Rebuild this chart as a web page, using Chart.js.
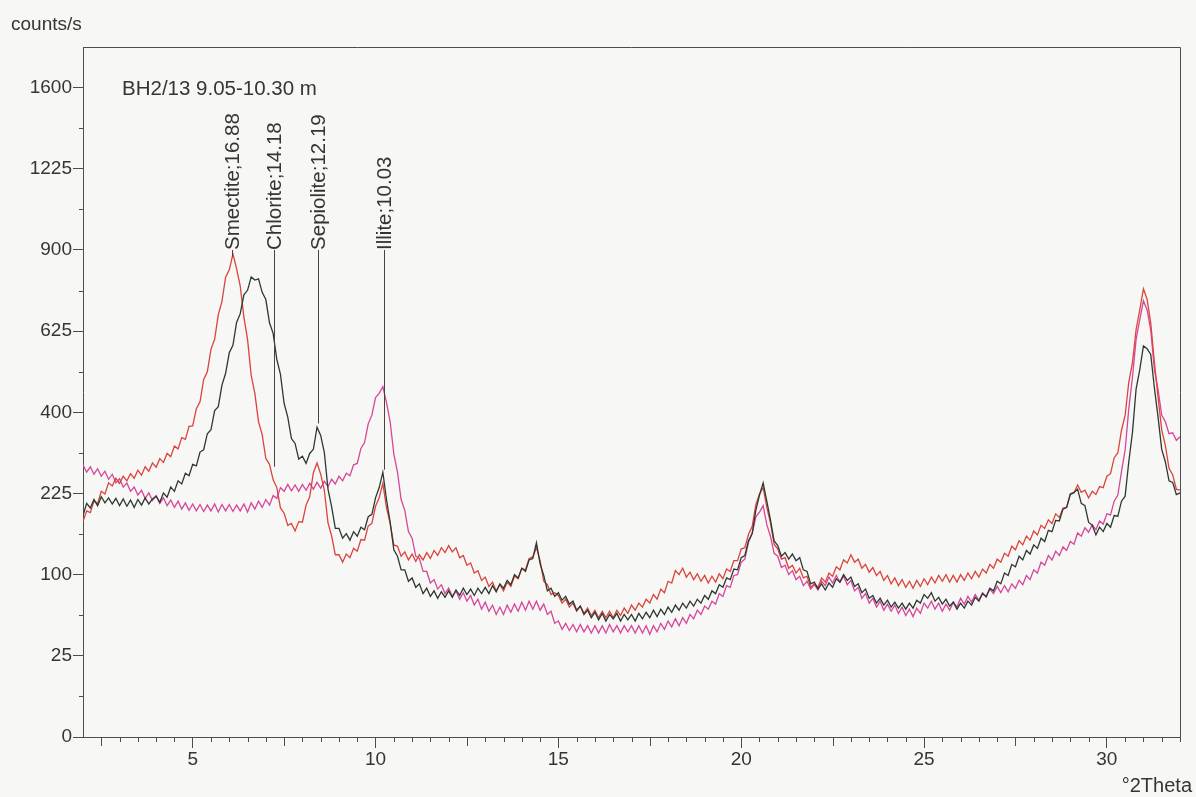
<!DOCTYPE html>
<html>
<head>
<meta charset="utf-8">
<script src="https://cdn.jsdelivr.net/npm/chart.js"></script>
<style>
  html, body { margin: 0; padding: 0; background: #f7f7f5; }
  #xrd { display: block; }
</style>
</head>
<body>
<canvas id="xrd" width="1196" height="797"></canvas>
<script>
// scan grid: 2.0 .. 32.0 °2Theta, one reading every 0.1°
const thetaStart = 2.0;
const thetaStep = 0.1;

// counts/s, one row per degree (2.x, 3.x, ... 31.x, then 32.0)
const blackCounts = [
  186, 207, 199, 214, 203, 219, 208, 217, 206, 216,
  203, 215, 202, 213, 200, 214, 204, 217, 206, 215,
  220, 209, 226, 218, 237, 229, 249, 243, 264, 259,
  282, 279, 308, 313, 349, 358, 404, 414, 470, 502,
  560, 582, 652, 680, 742, 757, 803, 792, 796, 750,
  726, 651, 618, 541, 499, 422, 388, 338, 327, 293,
  299, 284, 305, 314, 364, 345, 307, 233, 201, 165,
  165, 150, 157, 147, 160, 153, 167, 163, 184, 188,
  217, 236, 266, 214, 175, 133, 124, 106, 106, 92,
  96, 85, 89, 78, 84, 75, 81, 73, 80, 74,
  81, 74, 82, 76, 84, 77, 83, 76, 84, 78,
  85, 78, 87, 80, 89, 84, 93, 88, 100, 96,
  108, 104, 119, 121, 143, 114, 99, 81, 84, 75,
  79, 71, 75, 67, 70, 61, 65, 57, 61, 54,
  59, 52, 58, 51, 57, 53, 58, 51, 57, 52,
  57, 51, 58, 53, 59, 54, 61, 55, 62, 57,
  64, 59, 66, 61, 68, 63, 70, 65, 72, 68,
  76, 72, 81, 78, 88, 85, 96, 94, 107, 106,
  122, 125, 146, 157, 195, 222, 245, 211, 179, 146,
  139, 124, 129, 120, 127, 118, 122, 106, 104, 89,
  91, 83, 89, 82, 90, 85, 95, 91, 100, 93,
  97, 86, 89, 79, 83, 73, 76, 68, 73, 66,
  71, 64, 69, 63, 68, 62, 68, 63, 71, 68,
  77, 73, 79, 70, 74, 67, 72, 65, 69, 62,
  68, 63, 70, 66, 74, 70, 78, 75, 84, 81,
  92, 89, 102, 99, 113, 110, 124, 119, 132, 127,
  140, 135, 150, 145, 162, 160, 178, 177, 197, 200,
  224, 227, 233, 207, 203, 175, 170, 155, 167, 160,
  173, 167, 186, 185, 211, 220, 288, 352, 460, 512,
  580, 572, 555, 462, 388, 314, 287, 249, 246, 223,
  226
];

const redCounts = [
  176, 194, 191, 211, 207, 229, 224, 245, 239, 254,
  244, 258, 249, 263, 254, 270, 260, 277, 268, 285,
  276, 294, 286, 305, 298, 321, 315, 340, 336, 366,
  367, 409, 426, 485, 506, 571, 600, 677, 720, 802,
  828, 885, 832, 771, 669, 600, 496, 448, 377, 347,
  294, 282, 251, 236, 199, 190, 170, 173, 161, 176,
  175, 204, 219, 265, 285, 262, 231, 174, 153, 126,
  126, 116, 127, 122, 135, 131, 148, 147, 169, 173,
  202, 217, 244, 199, 173, 140, 138, 124, 130, 119,
  127, 117, 126, 119, 129, 121, 132, 125, 136, 129,
  139, 130, 136, 122, 125, 112, 115, 102, 105, 93,
  97, 86, 91, 81, 88, 81, 91, 86, 98, 95,
  108, 106, 121, 123, 136, 118, 92, 88, 77, 79,
  76, 68, 72, 64, 68, 60, 65, 58, 63, 56,
  61, 54, 60, 54, 60, 54, 61, 56, 63, 58,
  66, 61, 68, 64, 72, 68, 77, 72, 83, 79,
  92, 90, 105, 100, 108, 97, 103, 94, 101, 92,
  99, 90, 98, 91, 101, 95, 107, 104, 118, 118,
  134, 136, 156, 168, 205, 224, 236, 200, 174, 141,
  134, 120, 122, 108, 112, 102, 108, 96, 98, 85,
  89, 85, 96, 91, 102, 98, 110, 106, 119, 115,
  126, 116, 120, 108, 113, 103, 109, 99, 104, 93,
  99, 89, 96, 87, 94, 85, 92, 84, 93, 86,
  95, 88, 97, 90, 99, 92, 100, 91, 99, 91,
  100, 93, 102, 95, 104, 97, 107, 102, 113, 108,
  120, 116, 128, 124, 138, 133, 146, 140, 153, 147,
  161, 155, 170, 165, 179, 173, 189, 183, 199, 200,
  223, 226, 241, 227, 231, 217, 229, 223, 238, 236,
  258, 263, 296, 306, 357, 393, 478, 532, 630, 692,
  762, 727, 650, 532, 438, 358, 322, 274, 261, 233,
  231
];

const magentaCounts = [
  281, 266, 277, 262, 273, 258, 268, 252, 262, 245,
  253, 237, 245, 229, 237, 222, 231, 216, 226, 212,
  221, 207, 217, 203, 213, 200, 211, 197, 208, 195,
  206, 194, 205, 193, 204, 194, 206, 192, 205, 194,
  205, 193, 204, 194, 206, 192, 208, 197, 211, 200,
  214, 204, 221, 216, 236, 229, 242, 230, 241, 229,
  242, 231, 244, 233, 246, 235, 248, 238, 252, 243,
  258, 249, 264, 259, 281, 284, 316, 329, 372, 393,
  437, 448, 466, 424, 377, 304, 266, 214, 195, 160,
  150, 124, 121, 104, 104, 90, 94, 83, 88, 78,
  84, 75, 81, 72, 79, 70, 76, 66, 72, 62,
  69, 60, 66, 57, 64, 57, 66, 59, 67, 60,
  69, 61, 70, 62, 70, 61, 67, 57, 60, 49,
  51, 44, 49, 43, 48, 42, 48, 42, 47, 41,
  47, 41, 47, 41, 48, 42, 47, 41, 47, 42,
  47, 41, 47, 41, 47, 40, 47, 42, 49, 44,
  51, 46, 53, 47, 54, 49, 57, 53, 61, 57,
  65, 62, 70, 67, 78, 75, 87, 85, 99, 100,
  116, 120, 144, 157, 184, 192, 203, 171, 153, 128,
  124, 109, 112, 100, 105, 94, 98, 87, 92, 83,
  88, 82, 92, 87, 97, 90, 99, 91, 98, 88,
  93, 81, 85, 73, 78, 68, 73, 64, 70, 61,
  67, 60, 66, 58, 64, 56, 62, 55, 63, 58,
  68, 63, 70, 62, 68, 60, 67, 61, 69, 64,
  73, 67, 75, 69, 77, 71, 79, 74, 83, 78,
  86, 79, 87, 80, 89, 84, 93, 88, 99, 94,
  106, 102, 116, 112, 125, 119, 131, 125, 137, 132,
  145, 141, 158, 153, 166, 159, 171, 163, 177, 172,
  189, 187, 211, 222, 267, 313, 409, 491, 600, 661,
  722, 692, 628, 512, 458, 393, 377, 349, 351, 334,
  342
];

// axis ticks
const xTicks = [5, 10, 15, 20, 25, 30];
const yTicks = [0, 25, 100, 225, 400, 625, 900, 1225, 1600];
const yMinorTicks = [6.25, 56.25, 156.25, 306.25, 506.25, 756.25, 1056.25, 1406.25];

// identified phases: name;d-spacing, peak position (°2Theta), counts at the foot of the marker line
const phaseLabels = ['Smectite;16.88', 'Chlorite;14.18', 'Sepiolite;12.19', 'Illite;10.03'];
const phaseTheta = [6.08, 7.23, 8.42, 10.23];
const phaseFoot = [875, 277, 373, 271];
const phaseHead = 900;

const sampleName = 'BH2/13 9.05-10.30 m';

const FONT = '"Liberation Sans", Arial, sans-serif';
const INK = '#353535';

// square-root intensity axis, as in the diffractometer software
class SqrtScale extends Chart.LinearScale {
    getPixelForValue(value) {
        const lo = Math.sqrt(this.min), hi = Math.sqrt(this.max);
        return this.getPixelForDecimal((Math.sqrt(Math.max(value, 0)) - lo) / (hi - lo));
    }
    getValueForPixel(pixel) {
        const lo = Math.sqrt(this.min), hi = Math.sqrt(this.max);
        const s = lo + this.getDecimalForPixel(pixel) * (hi - lo);
        return s * s;
    }
}
SqrtScale.id = 'sqrt';
SqrtScale.defaults = { ticks: { callback: Chart.Ticks.formatters.numeric } };
Chart.register(SqrtScale);

function toPoints(counts) {
    return counts.map((c, i) => ({ x: +(thetaStart + i * thetaStep).toFixed(1), y: c }));
}

// frame, minor ticks, phase markers and loose texts
const decor = {
    id: 'decor',
    beforeDraw(chart) {
        const ctx = chart.ctx;
        ctx.save();
        ctx.fillStyle = '#f7f7f5';
        ctx.fillRect(0, 0, chart.width, chart.height);
        ctx.restore();
    },
    afterDraw(chart) {
        const ctx = chart.ctx;
        const area = chart.chartArea;
        const xs = chart.scales.x;
        const ys = chart.scales.y;
        ctx.save();

        // top and right edges of the frame
        ctx.strokeStyle = '#4d4d4d';
        ctx.lineWidth = 1;
        ctx.beginPath();
        ctx.moveTo(area.left, area.top + 0.5);
        ctx.lineTo(area.right + 0.5, area.top + 0.5);
        ctx.lineTo(area.right + 0.5, area.bottom);
        ctx.stroke();

        // minor ticks on x (every 0.5, longer every 2.5)
        ctx.beginPath();
        for (let k = 5; k <= 64; k++) {
            const t = k / 2;
            if (t % 5 === 0) continue;
            const px = Math.round(xs.getPixelForValue(t)) + 0.5;
            const len = (t % 2.5 === 0) ? 9 : 5;
            ctx.moveTo(px, area.bottom);
            ctx.lineTo(px, area.bottom + len);
        }
        // minor ticks on y
        yMinorTicks.forEach(v => {
            const py = Math.round(ys.getPixelForValue(v)) + 0.5;
            ctx.moveTo(area.left, py);
            ctx.lineTo(area.left - 4, py);
        });
        ctx.stroke();

        // phase markers
        const headY = ys.getPixelForValue(phaseHead);
        ctx.strokeStyle = '#444';
        ctx.fillStyle = INK;
        ctx.font = '20.5px ' + FONT;
        phaseLabels.forEach((name, i) => {
            const px = Math.round(xs.getPixelForValue(phaseTheta[i])) + 0.5;
            ctx.beginPath();
            ctx.moveTo(px, headY);
            ctx.lineTo(px, ys.getPixelForValue(phaseFoot[i]));
            ctx.stroke();
            ctx.save();
            ctx.translate(px + 1, headY);
            ctx.rotate(-Math.PI / 2);
            ctx.textAlign = 'left';
            ctx.textBaseline = 'middle';
            ctx.fillText(name, 0, 0);
            ctx.restore();
        });

        // sample name, axis titles
        ctx.textBaseline = 'middle';
        ctx.textAlign = 'left';
        ctx.fillText(sampleName, area.left + 39, ys.getPixelForValue(1600) + 2);
        ctx.font = '19px ' + FONT;
        ctx.fillText('counts/s', 11, 25);
        ctx.font = '20px ' + FONT;
        ctx.textAlign = 'right';
        ctx.fillText('\u00b02Theta', chart.width - 4, chart.height - 11);
        ctx.restore();
    }
};

Chart.defaults.font.family = FONT;
Chart.defaults.font.size = 19;
Chart.defaults.color = INK;

const xrdChart = new Chart(document.getElementById('xrd').getContext('2d'), {
    type: 'line',
    data: {
        datasets: [
            { label: 'black', data: toPoints(blackCounts), borderColor: '#2d3831' },
            { label: 'red', data: toPoints(redCounts), borderColor: '#da443c' },
            { label: 'magenta', data: toPoints(magentaCounts), borderColor: '#d6469a' }
        ]
    },
    options: {
        responsive: false,
        animation: false,
        layout: { padding: { left: 0, right: 16, top: 47, bottom: 0 } },
        elements: {
            line: { borderWidth: 1.3, tension: 0 },
            point: { radius: 0 }
        },
        plugins: {
            legend: { display: false },
            tooltip: { enabled: false },
            title: { display: false }
        },
        scales: {
            x: {
                type: 'linear',
                min: 2,
                max: 32,
                afterBuildTicks: scale => { scale.ticks = xTicks.map(v => ({ value: v })); },
                afterFit: scale => { scale.height = 60; },
                grid: { drawOnChartArea: false, tickLength: 11, color: '#4d4d4d' },
                border: { color: '#4d4d4d', width: 1 },
                ticks: { padding: 0, maxRotation: 0, callback: v => String(v) }
            },
            y: {
                type: 'sqrt',
                min: 0,
                max: 1806.25,
                afterBuildTicks: scale => { scale.ticks = yTicks.map(v => ({ value: v })); },
                afterFit: scale => { scale.width = 83; },
                grid: { drawOnChartArea: false, tickLength: 10, color: '#4d4d4d' },
                border: { color: '#4d4d4d', width: 1 },
                ticks: { padding: 1, callback: v => String(v) }
            }
        }
    },
    plugins: [decor]
});
</script>
</body>
</html>
